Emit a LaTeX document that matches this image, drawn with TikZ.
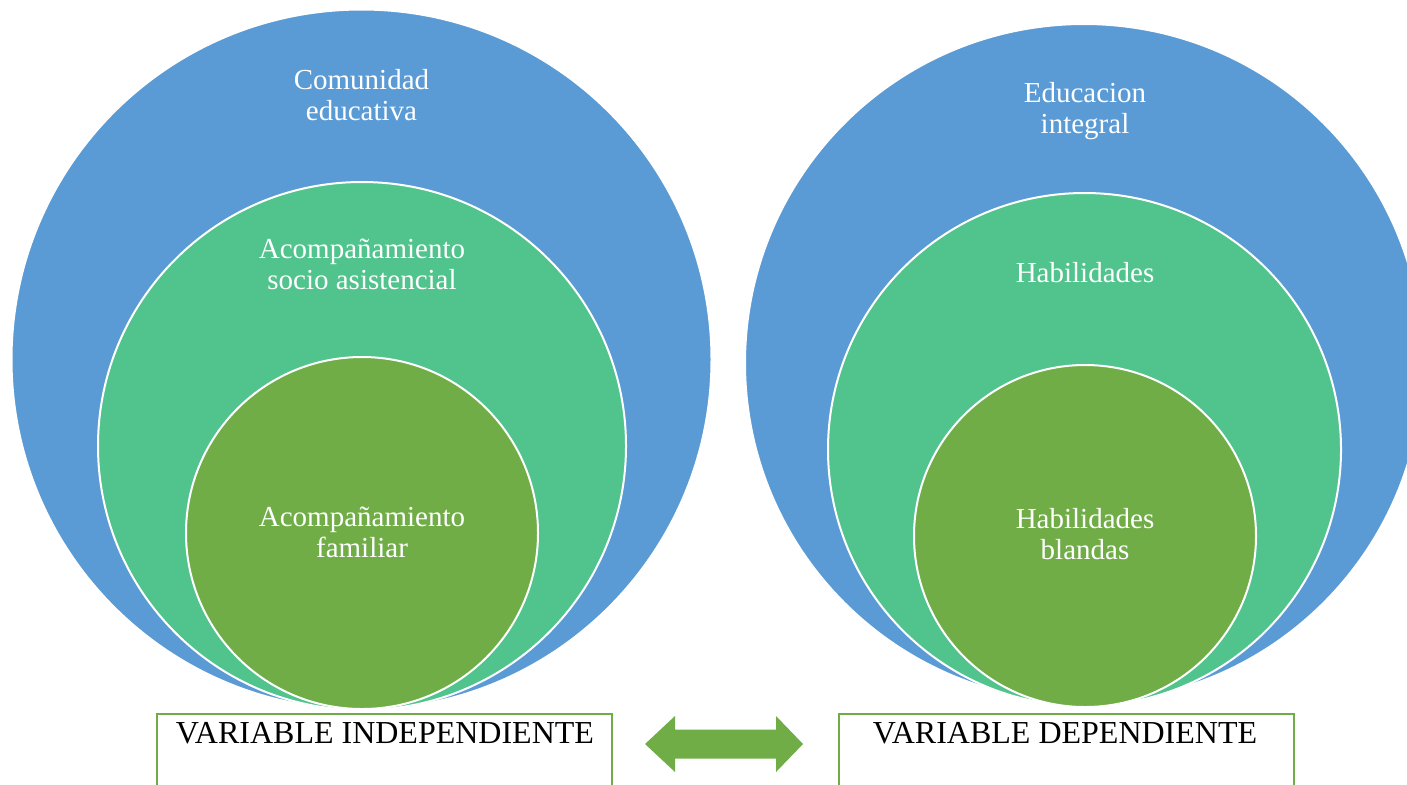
\documentclass[tikz,border=0pt]{standalone}
\usepackage{fontspec}
\setmainfont{Liberation Serif}
\definecolor{cblue}{HTML}{5B9BD5}
\definecolor{cteal}{HTML}{50C48C}
\definecolor{cgreen}{HTML}{70AD47}
\begin{document}
\begin{tikzpicture}[x=0.5pt,y=-0.5pt,
  ring/.style={circle, draw=white, line width=1pt, inner sep=0pt},
  lbl/.style={text=white, align=center, inner sep=0pt, anchor=base,
    font=\fontsize{14.5}{15.5}\selectfont},
  varbox/.style={draw=cgreen, line width=1pt, fill=white, inner sep=0pt,
    minimum width=227.5pt, minimum height=44pt, anchor=north west},
  vartext/.style={inner sep=0pt, anchor=base, font=\fontsize{16}{18}\selectfont}]
\useasboundingbox (0,0) rectangle (1407,784);
\clip (0,0) rectangle (1407,784);
% left group
\node[ring, fill=cblue, minimum size=350pt] (lbig) at (361.5,359.5) {};
\node[ring, fill=cteal, minimum size=264pt] (lmid) at (362,446) {};
\node[ring, fill=cgreen, minimum size=176pt] (lin) at (362,533) {};
\node[lbl] (lbigtxt) at (361.5,120) {Comunidad\\educativa};
\node[lbl] (lmidtxt) at (362,289) {Acompañamiento\\socio asistencial};
\node[lbl] (lintxt) at (362,557) {Acompañamiento\\familiar};
% right group
\node[ring, fill=cblue, minimum size=339pt] (rbig) at (1084,363) {};
\node[ring, fill=cteal, minimum size=256.5pt] (rmid) at (1084.5,449.5) {};
\node[ring, fill=cgreen, minimum size=171pt] (rin) at (1085,536) {};
\node[lbl] (rbigtxt) at (1085,133.5) {Educacion\\integral};
\node[lbl] (rmidtxt) at (1085,282.5) {Habilidades};
\node[lbl] (rintxt) at (1085,559.5) {Habilidades\\blandas};
% bottom boxes
\node[varbox] (lbox) at (156,712.5) {};
\node[vartext] (lboxtxt) at (385,743) {VARIABLE INDEPENDIENTE};
\node[varbox] (rbox) at (838,712.5) {};
\node[vartext] (rboxtxt) at (1065,743) {VARIABLE DEPENDIENTE};
% double arrow
\fill[cgreen] (645,744) -- (675,716) -- (675,729.5) -- (776,729.5) -- (776,716)
  -- (803,744) -- (776,772) -- (776,758.5) -- (675,758.5) -- (675,772) -- cycle;
\end{tikzpicture}
\end{document}
